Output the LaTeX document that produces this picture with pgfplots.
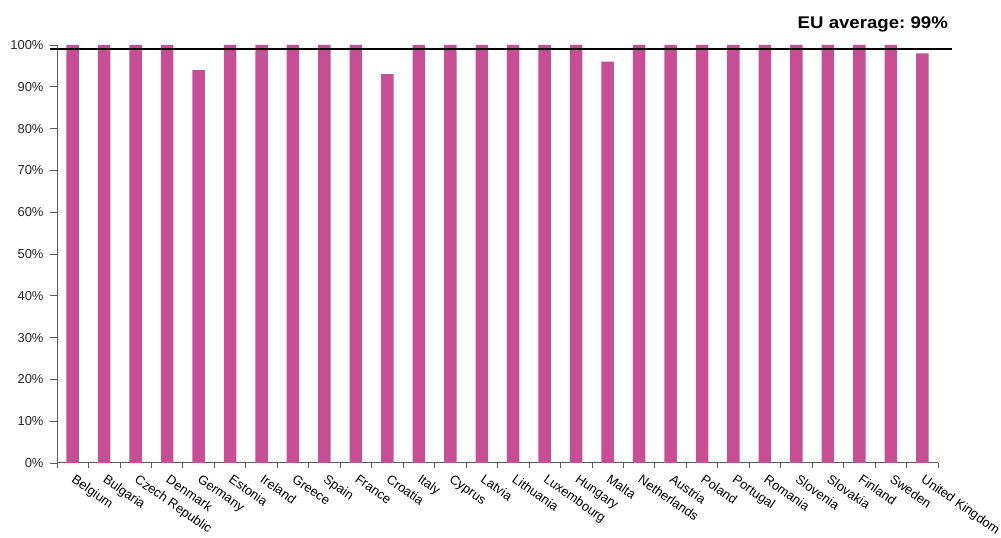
\documentclass[border=0pt]{standalone}
\usepackage{fontspec}
\setmainfont{Liberation Sans}
\usepackage{pgfplots}
\pgfplotsset{compat=1.18}
\definecolor{barpink}{HTML}{C64E95}
\definecolor{axisgray}{HTML}{5A5A5A}
\frenchspacing
\begin{document}
\begin{tikzpicture}[x=1bp,y=1bp]
\path[use as bounding box] (-57,-75) rectangle (944,463);
\begin{axis}[
  at={(0,0)}, anchor=south west,
  scale only axis,
  width=881bp, height=418bp,
  xmin=-0.5, xmax=27.5,
  ymin=0, ymax=100,
  axis x line*=bottom,
  axis y line*=left,
  axis line style={axisgray, line width=1pt},
  xtick={0,...,27},
  xticklabels={Belgium,Bulgaria,Czech Republic,Denmark,Germany,Estonia,Ireland,Greece,Spain,France,Croatia,Italy,Cyprus,Latvia,Lithuania,Luxembourg,Hungary,Malta,Netherlands,Austria,Poland,Portugal,Romania,Slovenia,Slovakia,Finland,Sweden,United Kingdom},
  x tick label style={rotate=-35, anchor=north west, font=\fontsize{13}{15}\selectfont, inner sep=1pt, xshift=4bp, yshift=0bp},
  major x tick style={draw=none},
  minor xtick={-0.5,0.5,...,27.5},
  minor x tick style={axisgray, line width=0.8pt},
  minor tick length=5bp,
  ytick={0,10,...,100},
  yticklabel={\pgfmathprintnumber{\tick}\%},
  y tick label style={font=\fontsize{13}{15}\selectfont, color=black!85, xshift=-3bp},
  y tick style={axisgray, line width=0.8pt},
  major tick length=7bp,
  tick align=outside,
  /pgf/number format/assume math mode=true,
  clip=false,
  ybar, bar width=12.5bp,
]
\addplot[fill=barpink, draw=none] coordinates {
  (0,100) (1,100) (2,100) (3,100) (4,94) (5,100) (6,100) (7,100)
  (8,100) (9,100) (10,93) (11,100) (12,100) (13,100) (14,100) (15,100)
  (16,100) (17,96) (18,100) (19,100) (20,100) (21,100) (22,100) (23,100)
  (24,100) (25,100) (26,100) (27,98)
};
% EU average line
\addplot[ybar=0pt, sharp plot, black, line width=2.5pt, forget plot] coordinates {(-0.72,99) (27.95,99)};
\node[anchor=east, inner sep=0pt] at (axis cs:27.82,105) {\scalebox{1.1}[1]{\fontsize{17}{19}\selectfont\bfseries EU average: 99\%}};
\end{axis}
\end{tikzpicture}
\end{document}
